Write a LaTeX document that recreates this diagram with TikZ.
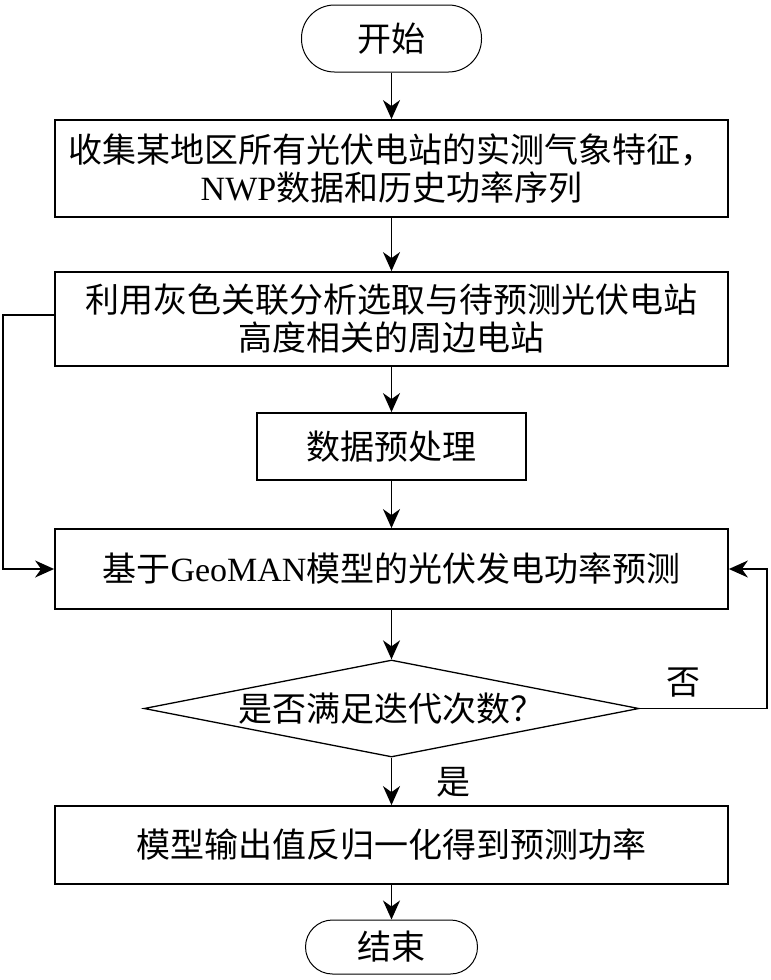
\documentclass[tikz,border=0pt]{standalone}
\usepackage{fontspec}
\setmainfont{Liberation Serif}
\newfontfamily\cjk{Noto Sans CJK SC}
\usetikzlibrary{arrows.meta,shapes.geometric}

\begin{document}
\begin{tikzpicture}[x=1pt, y=-1pt,
    every node/.style={font=\fontsize{34}{38}\selectfont\cjk, align=center, inner sep=0pt},
    procbox/.style={draw, line width=1.8pt, minimum width=673pt},
    termbox/.style={draw, line width=1pt, rounded corners=27pt,
      minimum width=172pt, minimum height=54pt},
    decbox/.style={draw, diamond, aspect=5.1, line width=1.3pt,
      minimum width=495pt, minimum height=97pt},
    flow/.style={line width=1.8pt, -{Stealth[length=19pt,width=17pt,inset=6pt]}}]
  \useasboundingbox (0,0) rectangle (771,980);

  \node[termbox, minimum width=180pt, minimum height=67pt, rounded corners=33pt]
    (start) at (391.5,38.5) {开始};
  \node[procbox, minimum height=97pt] (collect) at (391.5,168.5)
    {收集某地区所有光伏电站的实测气象特征，\\{\rmfamily NWP}数据和历史功率序列};
  \node[procbox, minimum height=94pt] (select) at (391.5,319)
    {利用灰色关联分析选取与待预测光伏电站\\高度相关的周边电站};
  \node[procbox, minimum width=269pt, minimum height=67pt] (prep) at (391.5,446.5)
    {数据预处理};
  \node[procbox, minimum height=80pt] (predict) at (391.5,569)
    {基于{\rmfamily GeoMAN}模型的光伏发电功率预测};
  \node[decbox] (iter) at (391.5,708.5) {是否满足迭代次数？};
  \node[procbox, minimum height=78pt] (output) at (391.5,845)
    {模型输出值反归一化得到预测功率};
  \node[termbox] (stop) at (391.5,947) {结束};

  % main flow
  \foreach \a/\b in {start/collect, collect/select, select/prep, prep/predict,
                     predict/iter, iter/output, output/stop}
    \draw[flow] (\a) -- (\b);

  % feedback lines
  \coordinate (lft) at (3,0);
  \coordinate (rgt) at (767,0);
  \coordinate (sel-out) at (55,315);
  \draw[flow] (sel-out) -- (lft |- sel-out)
    -- (lft |- predict.west) -- (predict.west);
  \draw[flow, line width=1.5pt] (iter.east) -- (rgt |- iter.east)
    -- (rgt |- predict.east) -- (predict.east);

  \node (no) at (683,683) {否};
  \node (yes) at (453,782) {是};
\end{tikzpicture}
\end{document}
